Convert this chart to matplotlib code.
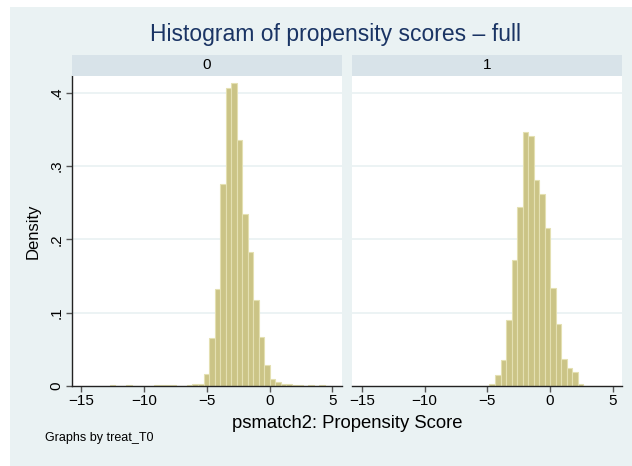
import numpy as np
import matplotlib.pyplot as plt
from matplotlib.patches import Rectangle

plt.rcParams['font.family'] = ['Liberation Sans', 'DejaVu Sans']

# Histogram bins shared by both panels (Stata: same start and width)
bin_start = -12.746
bin_width = 0.44
n_bins = 40

# Densities, one value per bin
dens_0 = [0.0012, 0, 0, 0.0012, 0, 0, 0, 0, 0.0012, 0.0014,
          0.0012, 0.0014, 0, 0, 0.0014, 0.0027, 0.003, 0.016, 0.065, 0.133,
          0.276, 0.406, 0.413, 0.335, 0.235, 0.183, 0.118, 0.067, 0.029, 0.010,
          0.005, 0.0023, 0.0023, 0.001, 0.0014, 0, 0.0012, 0, 0.0012, 0]
dens_1 = [0, 0, 0, 0, 0, 0, 0, 0, 0, 0,
          0, 0, 0, 0, 0, 0, 0, 0, 0.0025, 0.015,
          0.035, 0.090, 0.172, 0.244, 0.346, 0.341, 0.281, 0.262, 0.215, 0.134,
          0.084, 0.037, 0.025, 0.019, 0.003, 0, 0, 0, 0, 0]

groups = ['0', '1']
x_ticks = [-15, -10, -5, 0, 5]
y_ticks = [0, 0.1, 0.2, 0.3, 0.4]
y_ticklabels = ['0', '.1', '.2', '.3', '.4']

W, H = 632, 466
bg = '#eaf2f3'
strip_col = '#d8e3e9'
bar_col = '#cbc486'
bar_edge = '#e4e0b2'
navy = '#1a3464'

fig = plt.figure(figsize=(W / 100, H / 100), dpi=100)
fig.patch.set_facecolor('white')
# graph region background
fig.patches.append(Rectangle((10 / W, 0), 1 - 10 / W, 1 - 7 / H,
                             transform=fig.transFigure, facecolor=bg,
                             edgecolor='none', zorder=-10))

edges = bin_start + bin_width * np.arange(n_bins + 1)

ax_top, ax_bot = 75.7, 386.0
panels = [(72.0, 341.7), (352.3, 622.3)]

for i, (dens, grp) in enumerate(zip([dens_0, dens_1], groups)):
    x0, x1 = panels[i]
    ax = fig.add_axes([x0 / W, 1 - ax_bot / H, (x1 - x0) / W, (ax_bot - ax_top) / H])
    ax.set_facecolor('white')
    ax.bar(edges[:-1], dens, width=bin_width, align='edge',
           color=bar_col, edgecolor=bar_edge, linewidth=0.8, zorder=2)
    ax.set_xlim(-15.75, 5.75)
    ax.set_ylim(0, 0.4233)
    for yv in y_ticks[1:]:
        ax.axhline(yv, color=bg, linewidth=1.3, zorder=1)
    ax.set_xticks(x_ticks)
    ax.set_xticklabels(['\u2212' + str(-v) if v < 0 else str(v) for v in x_ticks])
    ax.tick_params(axis='x', length=4, width=1, color='#555555',
                   labelsize=11, pad=2, labelcolor='black')
    for s in ['top', 'right']:
        ax.spines[s].set_visible(False)
    ax.spines['bottom'].set_color('#222222')
    ax.spines['bottom'].set_linewidth(1.0)
    if i == 0:
        ax.set_yticks(y_ticks)
        ax.set_yticklabels(y_ticklabels, rotation=90, va='center')
        ax.tick_params(axis='y', length=4, width=1, color='#555555',
                       labelsize=11, pad=2)
        ax.spines['left'].set_color('#222222')
        ax.spines['left'].set_linewidth(1.0)
    else:
        ax.set_yticks([])
        ax.spines['left'].set_visible(False)

    # strip header
    sax = fig.add_axes([x0 / W, 1 - ax_top / H, (x1 - x0) / W, 20.7 / H])
    sax.set_facecolor(strip_col)
    sax.set_xticks([])
    sax.set_yticks([])
    for s in sax.spines.values():
        s.set_visible(False)
    sax.text(0.5, 0.5, grp, ha='center', va='center', fontsize=11,
             transform=sax.transAxes)

fig.text(336 / W, 1 - 35 / H, 'Histogram of propensity scores \u2013 full',
         ha='center', va='center', fontsize=16.5, color=navy)
fig.text(347 / W, 1 - 423 / H, 'psmatch2: Propensity Score',
         ha='center', va='center', fontsize=13.3)
fig.text(33 / W, 1 - 231 / H, 'Density', ha='center', va='center',
         rotation=90, fontsize=12)
fig.text(45 / W, 1 - 438 / H, 'Graphs by treat_T0', ha='left', va='center',
         fontsize=9)

fig.savefig('out.png', dpi=100)
